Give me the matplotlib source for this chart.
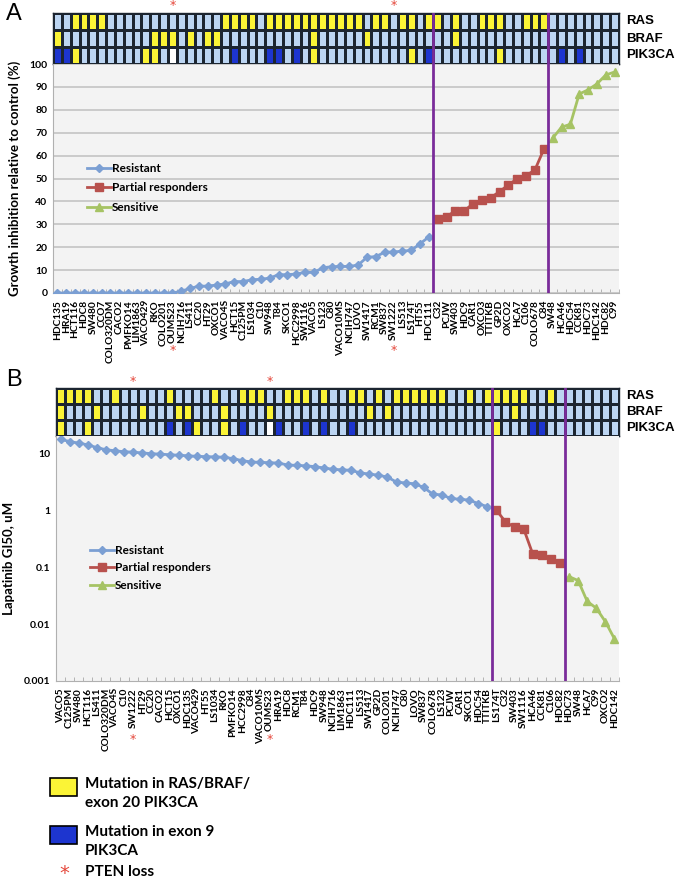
import numpy as np
import matplotlib
matplotlib.use("Agg")
import matplotlib.pyplot as plt
from matplotlib.colors import ListedColormap
from matplotlib.patches import Rectangle
from matplotlib import transforms

plt.rcParams["font.family"] = ["Lato", "DejaVu Sans"]

# ---------------- panel A data ----------------
names_a = ["HDC135", "HRA19", "HCT116", "HDC8", "SW480", "CCO7", "COLO320DM", "CACO2",
           "PMFKO14", "LIM1863", "VACO429", "RKO", "COLO201", "OUMS23", "NCIH716", "LS411",
           "CC20", "HT29", "OXCO1", "VACO4S", "HCT15", "C125PM", "LS1034", "C10", "SW948",
           "T84", "SKCO1", "HCC2998", "SW1116", "VACO5", "LS123", "C80", "VACO10MS",
           "NCIH747", "LOVO", "SW1417", "RCM1", "SW837", "SW1222", "LS513", "LS174T", "HT55",
           "HDC111", "C32", "PCJW", "SW403", "HDC9", "CAR1", "OXCO3", "TTITKB", "GP2D",
           "OXCO2", "HCA7", "C106", "COLO678", "C84", "SW48", "HCA46", "HDC54", "CCK81",
           "HDC73", "HDC142", "HDC82", "C99"]
resistant_a = [0, 0, 0, 0, 0, 0, 0, 0, 0, 0, 0, 0, 0, 0, 0.8, 2.0, 3.0, 3.0, 3.5, 4.0,
               5.0, 5.0, 5.8, 6.0, 6.5, 8.0, 8.0, 8.3, 9.0, 9.0, 11.0, 11.5, 11.6, 11.6,
               12.2, 15.6, 15.9, 17.8, 17.9, 18.3, 18.6, 21.5, 24.5]
partial_a = [32.3, 33.4, 35.8, 35.9, 39.0, 40.7, 41.6, 44.3, 47.2, 49.9, 51.2, 53.8, 62.8]
sensitive_a = [67.6, 72.4, 73.7, 86.9, 88.7, 91.3, 95.2, 96.5]
# 0 = wild type, Y = RAS/BRAF/exon 20 PIK3CA, B = exon 9 PIK3CA, W = not available
ras_a = "00YYYY0000" "000000000Y" "YYY0YYYYYY" "YYYYY0YY0Y" "Y0YY0Y00YY" "Y00YYY0000" "0000"
braf_a = "Y000000000" "0YYY0Y0YY0" "000000000Y" "00000Y0000" "00000Y0000" "0000000000" "0000"
pik_a = "BBY0000000" "YY0W000000" "B000BB0B0Y" "0000000000" "Y0B0000000" "Y000000B0B" "0000"
pten_a = ["OUMS23", "SW1222"]

# ---------------- panel B data ----------------
names_b = ["VACO5", "C125PM", "SW480", "HCT116", "LS411", "COLO320DM", "VACO4S", "C10",
           "SW1222", "HT29", "CC20", "CACO2", "HCT15", "OXCO1", "HDC135", "VACO429", "HT55",
           "LS1034", "RKO", "PMFKO14", "HCC2998", "C84", "VACO10MS", "OUMS23", "HRA19",
           "HDC8", "RCM1", "T84", "HDC9", "SW948", "NCIH716", "LIM1863", "HDC111", "LS513",
           "SW1417", "GP2D", "COLO201", "NCIH747", "C80", "LOVO", "SW837", "COLO678",
           "LS123", "PCJW", "CAR1", "SKCO1", "HDC54", "TTITKB", "LS174T", "C32", "SW403",
           "SW1116", "HCA46", "CCK81", "C106", "HDC82", "HDC73", "SW48", "HCA7", "C99",
           "OXCO2", "HDC142"]
resistant_b = [17.5, 16.0, 15.0, 14.0, 12.5, 11.5, 11.0, 10.6, 10.4, 10.1, 9.8, 9.6,
               9.4, 9.2, 9.0, 8.8, 8.7, 8.6, 8.5, 8.0, 7.4, 7.0, 6.9, 6.8, 6.7, 6.2,
               6.1, 6.0, 5.8, 5.5, 5.2, 5.1, 5.0, 4.5, 4.3, 4.1, 3.8, 3.1, 3.0, 2.9,
               2.5, 1.9, 1.85, 1.6, 1.55, 1.5, 1.3, 1.15]
partial_b = [1.0, 0.62, 0.5, 0.47, 0.17, 0.16, 0.14, 0.12]
sensitive_b = [0.068, 0.058, 0.025, 0.019, 0.011, 0.0055]
ras_b = "YYYY00Y000" "00Y0000Y00" "YYY00YYY0Y" "00YY0Y0YYY" "YYY00Y0YYY" "YY00Y00000" "00"
braf_b = "Y000Y0000Y" "000YY000Y0" "000Y000000" "0000Y0Y000" "0000000000" "Y000000000" "00"
pik_b = "Y00Y000000" "00B0BY00Y0" "B00WB00B0B" "00B0000000" "00000000Y0" "00BB000000" "00"
pten_b = ["SW1222", "OUMS23"]

# ---------------- style ----------------
W, H = 677, 883
fig = plt.figure(figsize=(W / 100, H / 100), dpi=100)

LIGHT, YEL, DARK, WHITE = "#bcd5f2", "#fbf436", "#1d35cf", "#ffffff"
cell_cmap = ListedColormap([LIGHT, YEL, DARK, WHITE])
code = {"0": 0, "Y": 1, "B": 2, "W": 3}
EDGE = "#1c2530"
PURPLE = "#7a2c9a"
STAR = "#e5473b"
series_style = [("Resistant", "#7b9fd3", "D", 4.5),
                ("Partial responders", "#b8514d", "s", 5.5),
                ("Sensitive", "#a6c364", "^", 5.5)]


def px_axes(x0, y0, x1, y1):
    return fig.add_axes([x0 / W, 1 - y1 / H, (x1 - x0) / W, (y1 - y0) / H])


def heatmap(ax, rows, n, splits):
    data = np.array([[code[c] for c in r] for r in rows])
    ax.pcolormesh(np.arange(n + 1) - 0.5, np.arange(4), data, cmap=cell_cmap,
                  vmin=-0.5, vmax=3.5, edgecolors=EDGE, linewidth=0.9)
    ax.set_xlim(-0.5, n - 0.5)
    ax.set_ylim(3, 0)
    ax.set_xticks([])
    ax.set_yticks([])
    for s in ax.spines.values():
        s.set_color(EDGE)
        s.set_linewidth(1.0)
    for sp in splits:
        ax.axvline(sp, color=PURPLE, lw=2, zorder=5)
    for i, lab in enumerate(["RAS", "BRAF", "PIK3CA"]):
        ax.text(1.013, 1 - (i + 0.5) / 3, lab, transform=ax.transAxes, ha="left",
                va="center", fontsize=9.5, fontweight="bold", family="Liberation Sans")


def response_plot(ax, names, groups, splits):
    n = len(names)
    ax.set_facecolor("#f3f3f3")
    start = 0
    for vals, (lab, col, mk, ms) in zip(groups, series_style):
        x = np.arange(start, start + len(vals))
        ax.plot(x, vals, color=col, marker=mk, ms=ms, lw=2, label=lab, zorder=3)
        start += len(vals)
    for sp in splits:
        ax.axvline(sp, color=PURPLE, lw=2, zorder=4)
    ax.set_xlim(-0.5, n - 0.5)
    ax.set_xticks(np.arange(n))
    ax.set_xticklabels(names, rotation=90, fontsize=7.3, fontweight="bold")
    ax.set_xticks(np.arange(n + 1) - 0.5, minor=True)
    ax.tick_params(axis="x", which="major", length=0, pad=5)
    ax.tick_params(axis="x", which="minor", length=3, direction="in", color="#a8a8a8")
    ax.tick_params(axis="y", length=0, labelsize=7.5, pad=4)
    for k in ["top", "right"]:
        ax.spines[k].set_visible(False)
    for k in ["left", "bottom"]:
        ax.spines[k].set_color("#b0b0b0")
    return n


def stars(ax_heat, ax_plot, names, pten, y_below):
    for nm in pten:
        i = names.index(nm)
        ax_heat.text(i, -0.42, "*", color=STAR, fontsize=9, ha="center", va="center",
                     family="DejaVu Sans", clip_on=False)
        tr = transforms.blended_transform_factory(ax_plot.transData, ax_plot.transAxes)
        ax_plot.text(i, y_below, "*", color=STAR, fontsize=9, ha="center", va="center",
                     family="DejaVu Sans", transform=tr, clip_on=False)


# ---------------- panel A ----------------
splits_a = [len(resistant_a) - 0.5, len(resistant_a) + len(partial_a) - 0.5]
hA = px_axes(53, 13, 619, 64)
heatmap(hA, [ras_a, braf_a, pik_a], len(names_a), splits_a)
pA = px_axes(53, 64, 619, 293)
response_plot(pA, names_a, [resistant_a, partial_a, sensitive_a], splits_a)
pA.set_ylim(0, 100)
pA.set_yticks(np.arange(0, 101, 10))
pA.set_yticklabels([str(v) for v in range(0, 101, 10)], fontweight="bold")
pA.yaxis.grid(True, color="#c4c4c4", lw=1.2)
pA.set_axisbelow(True)
pA.set_ylabel("Growth inhibition relative to control (%)", fontsize=9.5,
              fontweight="bold", labelpad=6)
pA.legend(loc="upper left", bbox_to_anchor=(0.05, 0.595), frameon=False,
          prop={"weight": "bold", "size": 8.5}, handlelength=2.0, handletextpad=0.1,
          labelspacing=0.72, borderpad=0)
stars(hA, pA, names_a, pten_a, -0.25)
fig.text(6 / W, 1 - 14 / H, "A", fontsize=17, va="center", ha="left",
         family="Liberation Sans")

# ---------------- panel B ----------------
splits_b = [len(resistant_b) - 0.5, len(resistant_b) + len(partial_b) - 0.5]
hB = px_axes(56, 388, 619, 436)
heatmap(hB, [ras_b, braf_b, pik_b], len(names_b), splits_b)
pB = px_axes(56, 436, 619, 681)
response_plot(pB, names_b, [resistant_b, partial_b, sensitive_b], splits_b)
pB.set_yscale("log")
pB.set_ylim(0.001, 20)
ticks_b = [0.001, 0.01, 0.1, 1, 10]
pB.set_yticks(ticks_b)
pB.set_yticklabels(["0.001", "0.01", "0.1", "1", "10"], fontweight="bold")
pB.yaxis.set_minor_locator(matplotlib.ticker.NullLocator())
pB.set_ylabel("Lapatinib GI50, uM", fontsize=9.5, fontweight="bold", labelpad=6)
pB.legend(loc="upper left", bbox_to_anchor=(0.05, 0.58), frameon=False,
          prop={"weight": "bold", "size": 8.5}, handlelength=2.0, handletextpad=0.1,
          labelspacing=0.55, borderpad=0)
stars(hB, pB, names_b, pten_b, -0.24)
fig.text(6 / W, 1 - 380 / H, "B", fontsize=17, va="center", ha="left",
         family="Liberation Sans")

# ---------------- key ----------------
def key_box(y, color):
    fig.add_artist(Rectangle((50 / W, 1 - (y + 18) / H), 27 / W, 18 / H,
                             transform=fig.transFigure, facecolor=color,
                             edgecolor="black", lw=1.2))

key_box(778, YEL)
fig.text(85 / W, 1 - 784 / H, "Mutation in RAS/BRAF/", fontsize=11,
         fontweight="bold", va="center")
fig.text(85 / W, 1 - 803 / H, "exon 20 PIK3CA", fontsize=11, fontweight="bold",
         va="center")
key_box(826, DARK)
fig.text(85 / W, 1 - 832 / H, "Mutation in exon 9", fontsize=11, fontweight="bold",
         va="center")
fig.text(85 / W, 1 - 851 / H, "PIK3CA", fontsize=11, fontweight="bold", va="center")
fig.text(64 / W, 1 - 874 / H, "*", fontsize=14, color=STAR, ha="center", va="center",
         family="DejaVu Sans")
fig.text(85 / W, 1 - 872 / H, "PTEN loss", fontsize=11, fontweight="bold",
         va="center")

fig.savefig("out.png", dpi=100)
